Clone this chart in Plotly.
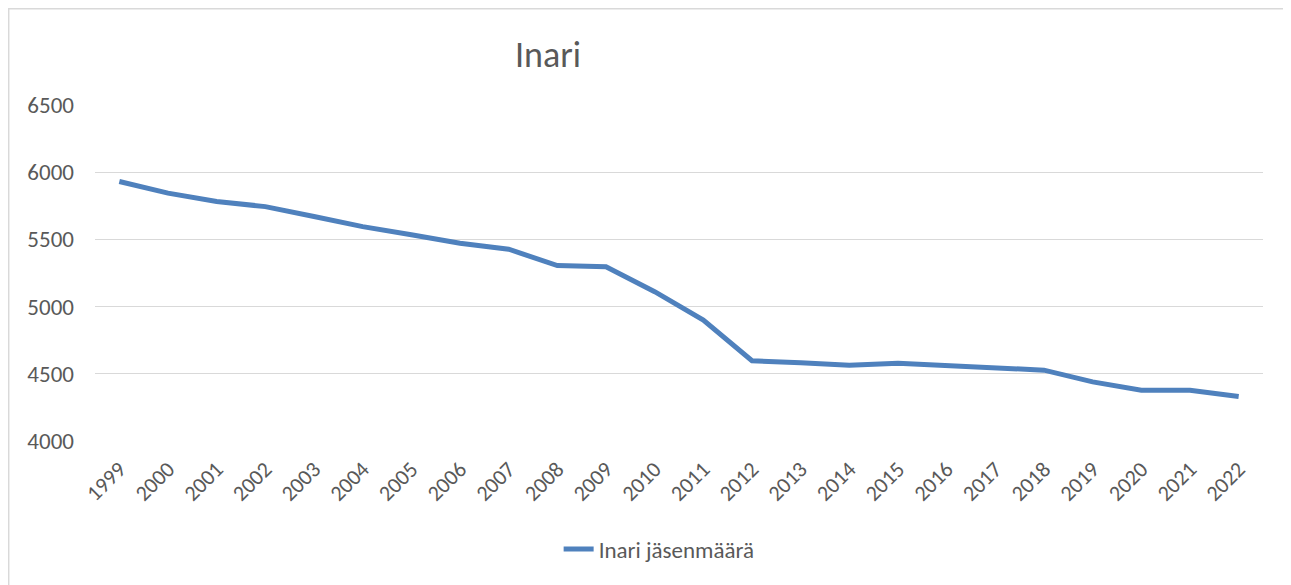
import plotly.graph_objects as go

years = [str(y) for y in range(1999, 2023)]
members = [5931, 5844, 5782, 5744, 5670, 5595, 5534, 5472, 5427, 5305, 5297, 5111,
           4900, 4597, 4582, 4563, 4578, 4560, 4540, 4527, 4440, 4378, 4378, 4331]
series_name = "Inari jäsenmäärä"
title_text = "Inari"
y_ticks = [4000, 4500, 5000, 5500, 6000, 6500]

# page has an 8px body margin; figure is placed at (8, 8)
OX, OY = 8, 8
W, H = 1291 - OX, 585 - OY
PL, PR, PT, PB = 95, 1263, 105, 441   # plot area in page pixels
L, R, T, B = PL - OX, 1291 - PR, PT - OY, 585 - PB
pw, ph = PR - PL, PB - PT

fig = go.Figure()
fig.add_trace(go.Scatter(
    x=years, y=members, mode="lines", name=series_name,
    line=dict(color="#4F81BD", width=5),
))

fnt = "Carlito, Calibri, 'Open Sans', sans-serif"
fig.update_layout(
    width=W, height=H,
    margin=dict(l=L, r=R, t=T, b=B, autoexpand=False),
    paper_bgcolor="white", plot_bgcolor="white",
    font=dict(family=fnt, color="#595959", size=23),
    showlegend=True,
    legend=dict(orientation="h", x=0.483, xanchor="center", y=(PB - 549) / ph,
                yanchor="middle", font=dict(size=23, color="#595959")),
    xaxis=dict(type="category", range=[-0.5, 23.5], tickangle=-45,
               showgrid=False, showline=False, ticks="", ticklabelstandoff=10,
               tickfont=dict(size=22, color="#595959")),
    yaxis=dict(range=[4000, 6500], tickvals=y_ticks, showgrid=True,
               gridcolor="#D9D9D9", gridwidth=1.3, zeroline=False,
               showline=False, ticks="", ticklabelstandoff=20,
               tickfont=dict(size=23, color="#595959")),
    annotations=[dict(text=title_text, xref="paper", yref="paper",
                      x=(548 - PL) / pw, y=1 + (PT - 55) / ph, xanchor="center",
                      yanchor="middle", showarrow=False,
                      font=dict(size=36, color="#595959", family=fnt))],
    shapes=[
        dict(type="line", xref="paper", yref="paper",
             x0=(8 - PL) / pw, x1=(1284 - PL) / pw,
             y0=(PB - 8.7) / ph, y1=(PB - 8.7) / ph,
             line=dict(color="#D9D9D9", width=1.5)),
        dict(type="line", xref="paper", yref="paper",
             x0=(8.7 - PL) / pw, x1=(8.7 - PL) / pw,
             y0=(PB - 585) / ph, y1=(PB - 8) / ph,
             line=dict(color="#D9D9D9", width=1.5)),
    ],
)

fig.write_html("out.html")
